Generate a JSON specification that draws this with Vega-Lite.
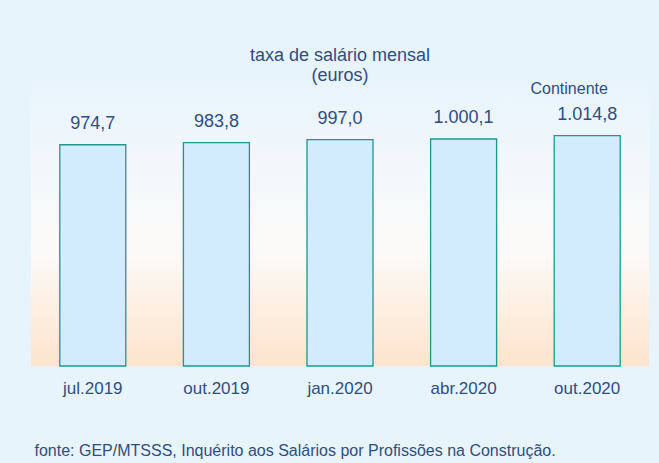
{
  "$schema": "https://vega.github.io/schema/vega-lite/v6.json",
  "width": 618,
  "height": 286,
  "autosize": {"type": "none"},
  "padding": {"left": 31, "top": 80, "right": 10, "bottom": 97},
  "background": "#e8f4fc",
  "config": {
    "font": "Liberation Sans",
    "locale": {"number": {"decimal": ",", "thousands": ".", "grouping": [3], "currency": ["", " €"]}},
    "view": {
      "stroke": null,
      "fill": {
        "gradient": "linear", "x1": 0, "y1": 0, "x2": 0, "y2": 1,
        "stops": [
          {"offset": 0, "color": "#e8f4fc"},
          {"offset": 0.06, "color": "#eaf5fd"},
          {"offset": 0.6, "color": "#fcfaf8"},
          {"offset": 1, "color": "#fde4cc"}
        ]
      }
    }
  },
  "title": {
    "text": ["taxa de salário mensal", "(euros)"],
    "fontSize": 18,
    "fontWeight": "normal",
    "color": "#2f4e80",
    "anchor": "middle",
    "frame": "group",
    "lineHeight": 20,
    "offset": -5
  },
  "data": {
    "values": [
      {"periodo": "jul.2019", "valor": 974.7},
      {"periodo": "out.2019", "valor": 983.8},
      {"periodo": "jan.2020", "valor": 997.0},
      {"periodo": "abr.2020", "valor": 1000.1},
      {"periodo": "out.2020", "valor": 1014.8}
    ]
  },
  "encoding": {
    "x": {
      "field": "periodo",
      "type": "nominal",
      "sort": null,
      "scale": {"paddingInner": 0.466, "paddingOuter": 0.233},
      "axis": {
        "title": "fonte: GEP/MTSSS, Inquérito aos Salários por Profissões na Construção.",
        "titleFontSize": 16,
        "titleFontWeight": "normal",
        "titleColor": "#2f4e80",
        "titleAnchor": "start",
        "titleAlign": "left",
        "titleBaseline": "alphabetic",
        "titleX": 3,
        "titleY": 89,
        "labelAngle": 0,
        "labelFontSize": 17,
        "labelColor": "#2f4e80",
        "labelPadding": 14,
        "ticks": false,
        "domain": false,
        "grid": false
      }
    }
  },
  "layer": [
    {
      "mark": {"type": "bar", "fill": "#d3ecfd", "stroke": "#1f978f", "strokeWidth": 1.3},
      "encoding": {
        "y": {"field": "valor", "type": "quantitative", "scale": {"domain": [0, 1260], "nice": false, "zero": true}, "axis": null}
      }
    },
    {
      "mark": {"type": "text", "fontSize": 18, "color": "#2f4e80", "baseline": "alphabetic", "dy": -16},
      "encoding": {
        "y": {"field": "valor", "type": "quantitative"},
        "text": {"field": "valor", "type": "quantitative", "format": ",.1f"}
      }
    },
    {
      "data": {"values": [{"rotulo": "Continente"}]},
      "mark": {"type": "text", "fontSize": 16, "color": "#2f4e80", "baseline": "middle", "dx": -18},
      "encoding": {
        "x": {"datum": "out.2020"},
        "y": {"datum": 1220},
        "text": {"field": "rotulo", "type": "nominal"}
      }
    }
  ]
}
